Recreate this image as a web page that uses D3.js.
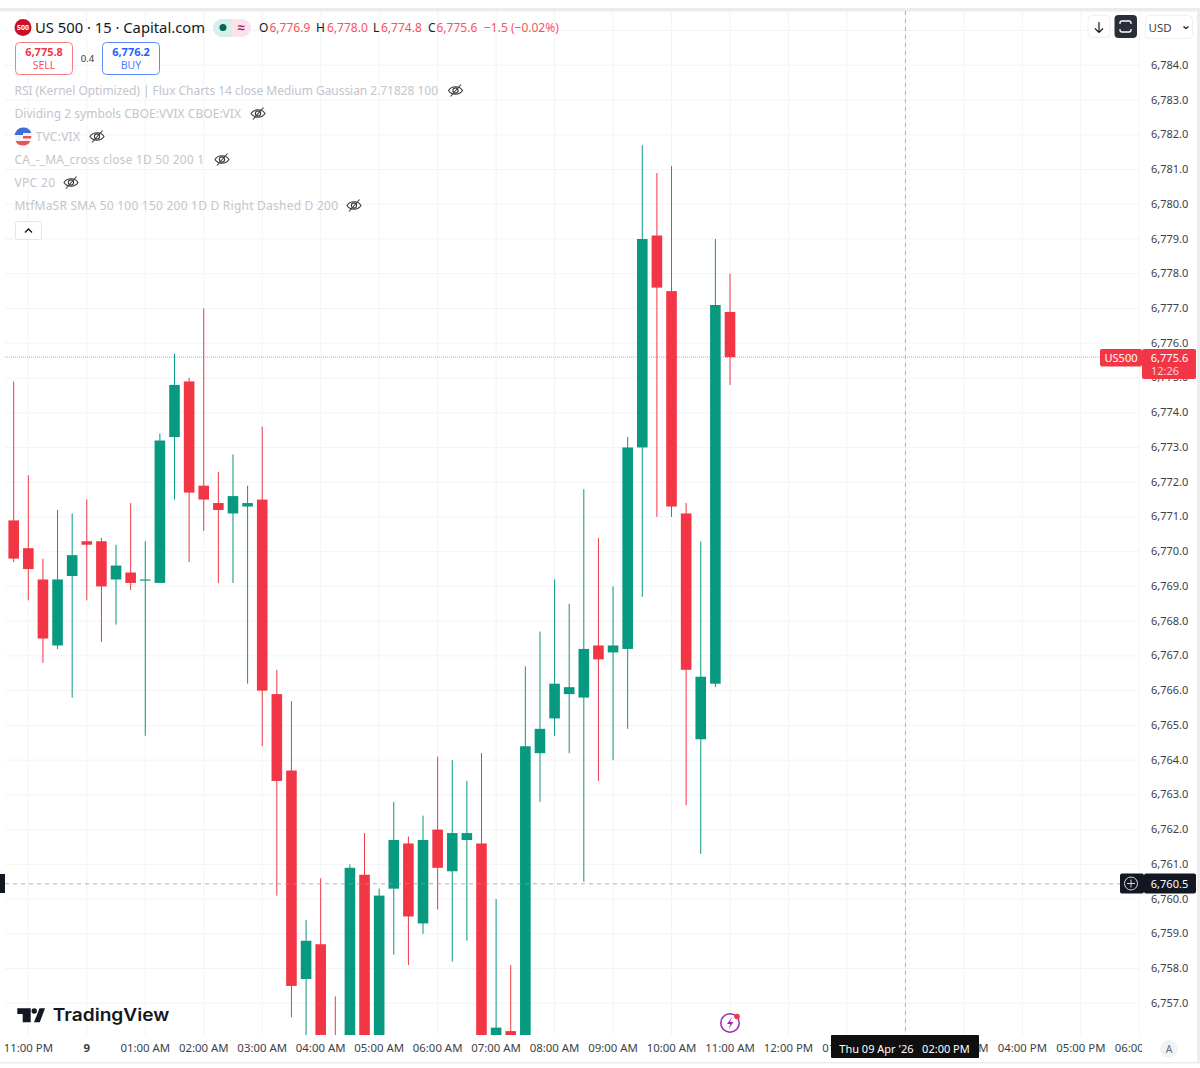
<!DOCTYPE html>
<html><head><meta charset="utf-8">
<script src="https://cdn.jsdelivr.net/npm/d3@7/dist/d3.min.js"></script>
<style>html,body{margin:0;padding:0;background:#fff}svg{display:block}text{font-family:"Noto Sans",sans-serif}</style>
</head><body><svg id="c" width="1200" height="1068"></svg>
<script>
const opens =[6770.9,6770.1,6769.2,6767.3,6769.3,6770.3,6770.3,6769.2,6769.4,6769.2,6769.1,6773.3,6774.9,6771.9,6771.4,6771.1,6771.3,6771.5,6765.9,6763.7,6757.7,6758.7,6755.8,6755.0,6760.7,6755.0,6760.3,6761.6,6759.3,6762.0,6760.8,6761.7,6761.6,6755.4,6756.2,6755.6,6764.2,6765.2,6765.9,6765.8,6767.3,6767.1,6767.2,6773.0,6779.1,6777.5,6771.1,6764.6,6766.2,6776.9];
const highs =[6774.9,6772.2,6769.8,6771.2,6771.1,6771.5,6770.4,6770.2,6771.4,6770.3,6773.4,6775.7,6775.0,6777.0,6772.3,6772.8,6771.9,6773.6,6766.6,6765.7,6759.4,6760.6,6757.2,6761.0,6761.9,6760.3,6762.8,6761.8,6762.4,6764.1,6764.0,6763.4,6764.2,6760.0,6758.1,6766.7,6767.7,6769.2,6768.5,6771.8,6770.4,6769.0,6773.3,6781.7,6780.9,6781.1,6771.4,6770.3,6779.0,6778.0];
const lows  =[6769.7,6768.6,6766.8,6767.2,6765.8,6768.6,6767.4,6767.9,6768.9,6764.7,6769.1,6771.5,6769.7,6770.6,6769.1,6769.1,6766.2,6764.4,6760.1,6756.6,6755.5,6755.0,6754.6,6754.8,6754.5,6754.7,6758.4,6758.1,6759.0,6759.7,6758.2,6758.8,6754.8,6755.0,6755.2,6755.3,6762.8,6764.7,6764.2,6760.5,6763.4,6764.0,6764.9,6768.7,6771.0,6771.0,6762.7,6761.3,6766.1,6774.8];
const closes=[6769.8,6769.5,6767.5,6769.2,6769.9,6770.2,6769.0,6769.6,6769.1,6769.2,6773.2,6774.8,6771.7,6771.5,6771.2,6771.6,6771.4,6766.0,6763.4,6757.5,6758.8,6755.4,6755.0,6760.9,6754.9,6760.1,6761.7,6759.5,6761.7,6760.9,6761.9,6761.9,6755.2,6756.3,6755.6,6764.4,6764.9,6766.2,6766.1,6767.2,6766.9,6767.3,6773.0,6779.0,6777.6,6771.3,6766.6,6766.4,6777.1,6775.6];
const priceTicks=d3.range(6784,6756,-1);
const timeLabels=["11:00 PM","9","01:00 AM","02:00 AM","03:00 AM","04:00 AM","05:00 AM","06:00 AM","07:00 AM","08:00 AM","09:00 AM","10:00 AM","11:00 AM","12:00 PM","01:00 PM","02:00 PM","03:00 PM","04:00 PM","05:00 PM","06:00 PM"];
const timeIdx=timeLabels.map((_,i)=>1+i*4);
const legendRows=["RSI (Kernel Optimized) | Flux Charts 14 close Medium Gaussian 2.71828 100","Dividing 2 symbols CBOE:VVIX CBOE:VIX","TVC:VIX","CA_-_MA_cross close 1D 50 200 1","VPC 20","MtfMaSR SMA 50 100 150 200 1D D Right Dashed D 200"];
const lastPrice=6775.6, crossPrice=6760.44, crossLabel="6,760.5", crossIdx=61;

const RED="#F23645",GREEN="#089981",GRID="#f3f4f5",TXT="#131722",AX="#3b3f48";
const x=d3.scaleLinear().domain([0,49]).range([13.7,730]);
const y=d3.scaleLinear().domain([6784,6757]).range([65.3,1003.3]);
const L=5,R=1140,T=11,B=1035;
const svg=d3.select("#c");
svg.append("rect").attr("width",1200).attr("height",1068).attr("fill","#fff");
svg.append("rect").attr("x",0).attr("y",8).attr("width",1200).attr("height",3.5).attr("fill","#ececec");
svg.append("rect").attr("x",1197).attr("y",8).attr("width",3).attr("height",1054).attr("fill","#ececec");
svg.append("rect").attr("x",0).attr("y",1062).attr("width",1200).attr("height",1.5).attr("fill","#ececec");
const defs=svg.append("defs");
defs.append("clipPath").attr("id","plot").append("rect").attr("x",L).attr("y",T).attr("width",R-L).attr("height",B-T);
defs.append("clipPath").attr("id","tclip").append("rect").attr("x",0).attr("y",B).attr("width",1142).attr("height",26);

const plot=svg.append("g").attr("clip-path","url(#plot)");
plot.selectAll(".hg").data(priceTicks.concat([6785])).join("line").attr("x1",L).attr("x2",R).attr("y1",d=>y(d)).attr("y2",d=>y(d)).attr("stroke",GRID);
plot.selectAll(".vg").data(timeIdx).join("line").attr("x1",d=>x(d)).attr("x2",d=>x(d)).attr("y1",T).attr("y2",B).attr("stroke",GRID);

const idx=d3.range(opens.length);
const col=i=>closes[i]>=opens[i]?GREEN:RED;
plot.selectAll(".w").data(idx).join("line").attr("x1",x).attr("x2",x).attr("y1",i=>y(highs[i])).attr("y2",i=>y(lows[i])).attr("stroke",col).attr("stroke-width",1);
plot.selectAll(".b").data(idx).join("rect").attr("x",i=>x(i)-5.3).attr("width",10.6)
  .attr("y",i=>y(Math.max(opens[i],closes[i]))).attr("height",i=>Math.max(1.2,Math.abs(y(opens[i])-y(closes[i])))).attr("fill",col);

plot.append("line").attr("x1",L).attr("x2",R).attr("y1",y(lastPrice)).attr("y2",y(lastPrice)).attr("stroke",RED).attr("stroke-opacity",.55).attr("stroke-dasharray","1 1");
plot.append("line").attr("x1",L).attr("x2",R).attr("y1",y(crossPrice)).attr("y2",y(crossPrice)).attr("stroke","#9598a1").attr("stroke-opacity",.75).attr("stroke-dasharray","4 4");
plot.append("line").attr("x1",x(crossIdx)).attr("x2",x(crossIdx)).attr("y1",T).attr("y2",B).attr("stroke","#9598a1").attr("stroke-opacity",.75).attr("stroke-dasharray","4 4");

const ya=svg.append("g").attr("transform","translate(1151,-0.5)").call(d3.axisRight(y).tickValues(priceTicks).tickFormat(d3.format(",.1f")).tickSize(0).tickPadding(0));
ya.select(".domain").remove();
ya.selectAll("text").attr("font-size",11).attr("fill",AX).style("font-family",'"Noto Sans",sans-serif');
const xa=svg.append("g").attr("clip-path","url(#tclip)").append("g").attr("transform","translate(-0.5,1041)").call(d3.axisBottom(x).tickValues(timeIdx).tickFormat((d,i)=>timeLabels[i]).tickSize(0).tickPadding(0));
xa.select(".domain").remove();
xa.selectAll("text").attr("font-size",11.4).attr("fill",AX).attr("dy","0.92em").style("font-family",'"Noto Sans",sans-serif').attr("font-weight",(d,i)=>timeLabels[i]==="9"?700:400);

function txt(s,px,py,size,fill,opt={}){return svg.append("text").attr("x",px).attr("y",py).attr("font-size",size).attr("fill",fill).attr("dominant-baseline","central").attr("text-anchor",opt.a||"start").attr("font-weight",opt.w||400).text(s);}
function box(px,py,w,h,fill,opt={}){return svg.append("rect").attr("x",px).attr("y",py).attr("width",w).attr("height",h).attr("rx",opt.r||0).attr("fill",fill).attr("stroke",opt.s||"none");}

box(1100,349,42,17.5,RED,{r:2});
txt("US500",1121,357.5,11,"#fff",{a:"middle"});
box(1142,349,54,30,RED,{r:2});
txt(d3.format(",.1f")(lastPrice),1169.5,357,11,"#fff",{a:"middle"});
txt("12:26",1165,370.5,11,"#ffd0d4",{a:"middle"});
box(1120,873.5,24,20,"#131722",{r:2});
svg.append("circle").attr("cx",1131).attr("cy",883.5).attr("r",6.5).attr("fill","none").attr("stroke","#d8d8d8");
svg.append("path").attr("d","M1131 879.5v8M1127 883.5h8").attr("stroke","#d8d8d8");
box(1144,873.5,52,20,"#131722",{r:2});
txt(crossLabel,1169.5,883,11,"#fff",{a:"middle"});
box(0,874,5,19,"#131722");
box(831,1035,148,23,"#0f0f0f",{r:1});
txt("Thu 09 Apr '26   02:00 PM",904.5,1048.5,11,"#fff",{a:"middle"}).style("white-space","pre");

svg.append("circle").attr("cx",23).attr("cy",27.5).attr("r",8.5).attr("fill","#c8102e");
txt("500",23,27.5,7,"#fff",{a:"middle",w:700});
txt("US 500 · 15 · Capital.com",35,27,15,TXT).attr("textLength",170).attr("lengthAdjust","spacingAndGlyphs");
box(213,19,38,18,"#fbe3ec",{r:9});
svg.append("path").attr("d","M222 19h10v18h-10a9 9 0 0 1 0-18z").attr("fill","#d7f0ea");
svg.append("circle").attr("cx",223).attr("cy",27.5).attr("r",3.5).attr("fill","#056656");
txt("≈",241,27,13,"#a3195b",{a:"middle",w:700});
const ohlc=[["O",259,"6,776.9",269.5],["H",316,"6,778.0",327],["L",373,"6,774.8",381],["C",428,"6,775.6",436.5]];
const HRED="#F7525F";
ohlc.forEach(o=>{txt(o[0],o[1],27,12,TXT);txt(o[2],o[3],27,12,HRED);});
txt("−1.5 (−0.02%)",484,27,12,HRED);

box(15.5,42.5,57,32,"#fff",{r:4,s:"#f77c80"});
txt("6,775.8",44,51.5,11,RED,{a:"middle",w:700});
txt("SELL",44,64.5,10.5,"#f7525f",{a:"middle"});
txt("0.4",87.5,58.5,9.5,"#333",{a:"middle"});
box(102.5,42.5,57,32,"#fff",{r:4,s:"#5b8cff"});
txt("6,776.2",131,51.5,11,"#2962ff",{a:"middle",w:700});
txt("BUY",131,64.5,10.5,"#4d7fff",{a:"middle"});

const LG="#c3c5cb";
const rowY=d3.range(6).map(i=>90+i*23);
const eyeX=[455.5,258,97,222,71,354];
const rowStart=[14.5,14.5,35.5,14.5,14.5,14.5];
const rowEnd=[438,241,80,204,55,338];
function eye(cx,cy){
  const g=svg.append("g").attr("transform",`translate(${cx},${cy})`).attr("fill","none").attr("stroke","#3a3a3a").attr("stroke-width",1.1);
  g.append("path").attr("d","M-7 0C-4 -5 4 -5 7 0C4 5 -4 5 -7 0z");
  g.append("circle").attr("r",2.6);
  g.append("path").attr("d","M-5 6L5.5 -6");
}
legendRows.forEach((s,i)=>{txt(s,rowStart[i],rowY[i],12,LG).attr("textLength",rowEnd[i]-rowStart[i]).attr("lengthAdjust","spacing");eye(eyeX[i],rowY[i]+.5);});
svg.append("circle").attr("cx",23).attr("cy",136).attr("r",8.5).attr("fill","#f4f4f4");
svg.append("path").attr("d","M14.6 135a8.5 8.5 0 0 1 8.4-7.5a8.5 8.5 0 0 1 8.4 5.5h-8.4v2z").attr("fill","#3d6fd9");
svg.append("path").attr("d","M23 136h8.4l-.3 2.5H23zM15.5 141h15a8.5 8.5 0 0 1-15 0z").attr("fill","#ef5350");
box(15.5,221.5,26,18,"#fff",{r:2,s:"#e6e6e6"});
svg.append("path").attr("d","M25 232.5l3.5-3.5l3.5 3.5").attr("fill","none").attr("stroke","#131722").attr("stroke-width",1.4);

box(1088,15.5,22,22,"#fff",{r:4,s:"#f0f0f0"});
svg.append("path").attr("d","M1099 22v10M1095 28.5l4 4l4-4").attr("fill","none").attr("stroke","#131722").attr("stroke-width",1.2);
box(1114.5,15,22.5,23,"#2a2e39",{r:4});
svg.append("path").attr("d","M1120 24v-1a2 2 0 0 1 2-2h7a2 2 0 0 1 2 2v1M1120 29v1a2 2 0 0 0 2 2h7a2 2 0 0 0 2-2v-1").attr("fill","none").attr("stroke","#fff").attr("stroke-width",1.3);
box(1145.5,15.5,47,23,"#fff",{r:4,s:"#f0f0f0"});
txt("USD",1148.5,27,11.5,AX);
svg.append("path").attr("d","M1183.5 26.5l2.5 2l2.5-2").attr("fill","none").attr("stroke","#131722").attr("stroke-width",1.3);

// logo
svg.append("path").attr("d","M17.3 1008.3H30.7V1022.3H22.7V1014H17.3z").attr("fill","#131722");
svg.append("circle").attr("cx",34.2).attr("cy",1011).attr("r",2.7).attr("fill","#131722");
svg.append("path").attr("d","M37.3 1022.3h-3.3L39.5 1008.3H45L39.8 1022.3z").attr("fill","#131722");
svg.append("text").attr("x",52.8).attr("y",1020.7).attr("font-size",17).attr("font-weight",600).attr("fill","#131722").style("font-family","Inter,sans-serif").attr("textLength",116.5).attr("lengthAdjust","spacingAndGlyphs").text("TradingView");

svg.append("circle").attr("cx",730).attr("cy",1023).attr("r",9.2).attr("fill","none").attr("stroke","#9c27b0").attr("stroke-width",1.5);
svg.append("path").attr("d","M732 1017l-5 7h3.5l-2 5l5-7h-3.5z").attr("fill","#9c27b0");
svg.append("circle").attr("cx",737).attr("cy",1016.5).attr("r",2.8).attr("fill",RED);

svg.append("circle").attr("cx",1169).attr("cy",1049).attr("r",9).attr("fill","#f2f2f2");
txt("A",1169,1049,10.5,"#6a6d78",{a:"middle"});
</script></body></html>
